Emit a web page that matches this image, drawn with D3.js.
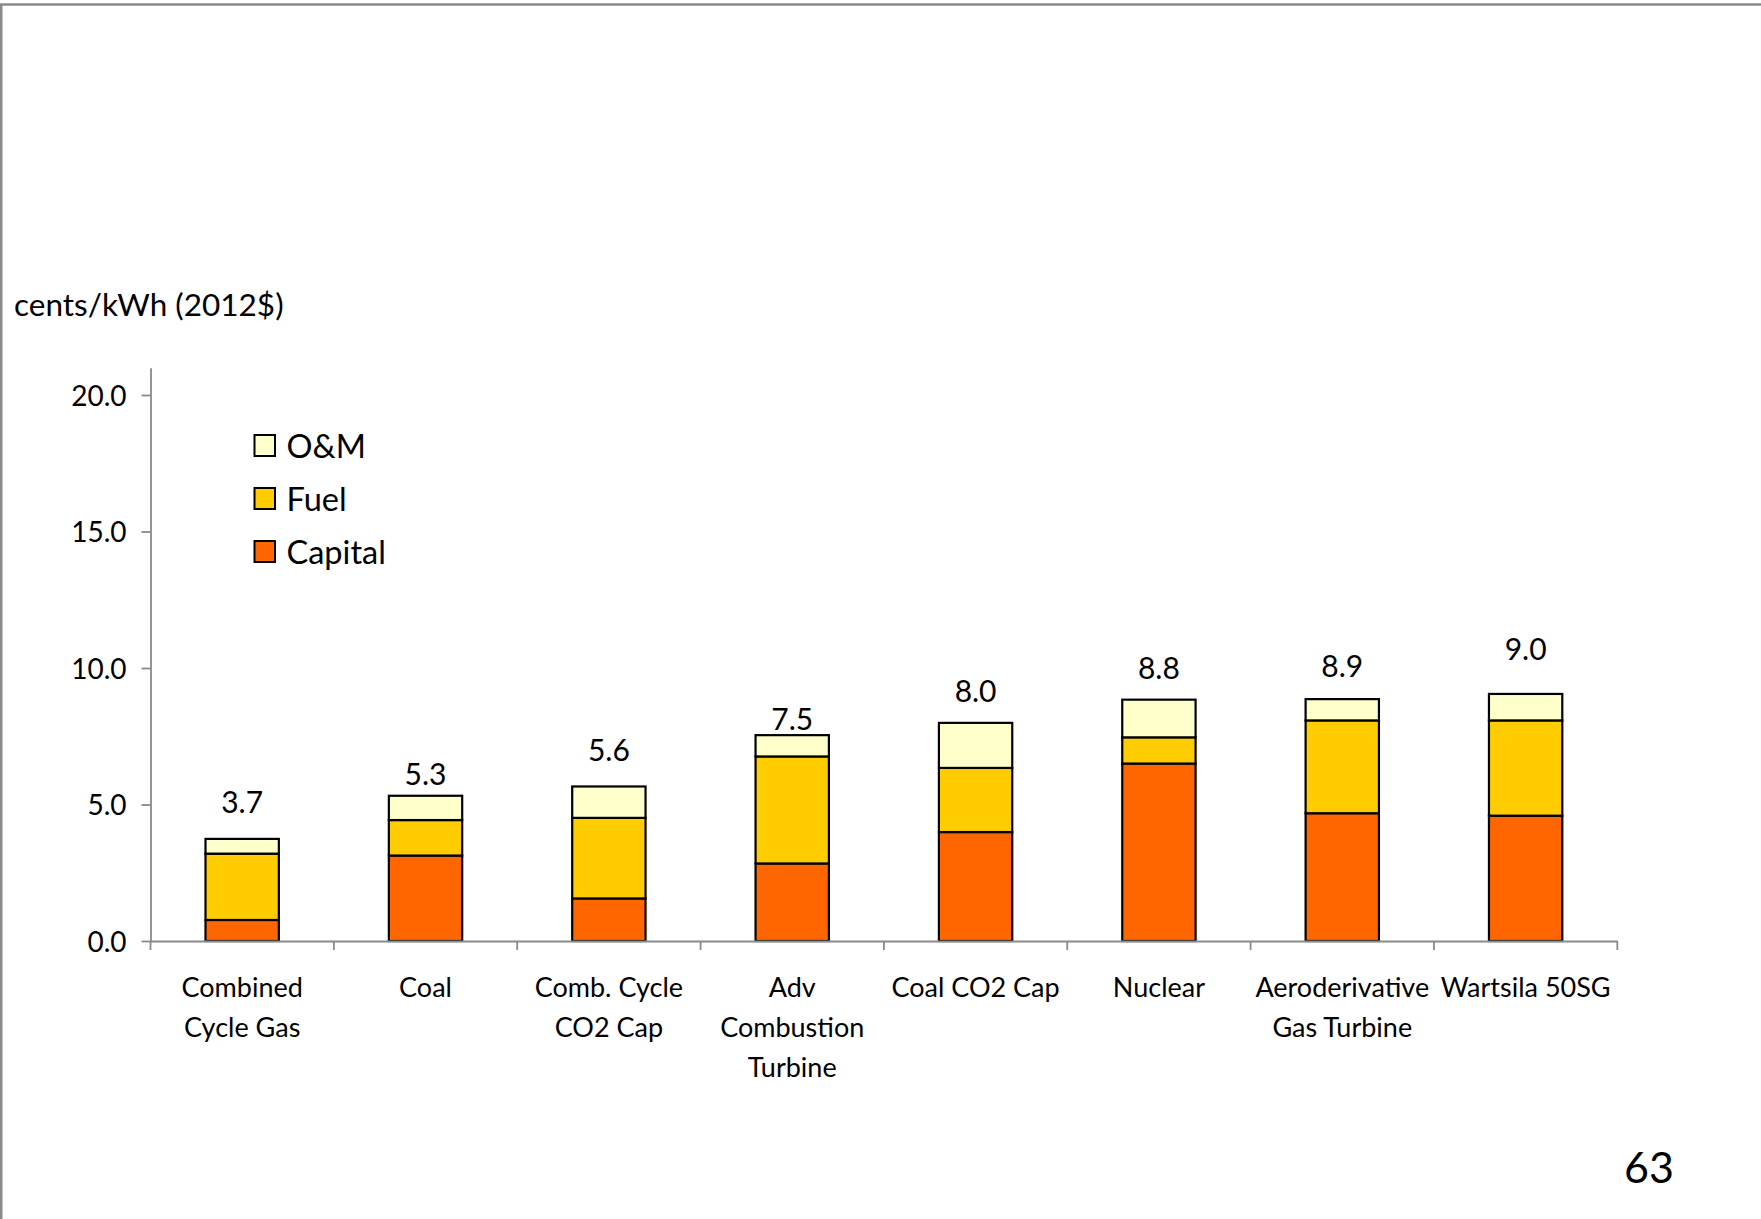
<!DOCTYPE html>
<html>
<head>
<meta charset="utf-8">
<script src="https://cdn.jsdelivr.net/npm/d3@7"></script>
<style>
  html, body { margin: 0; padding: 0; background: #ffffff; }
  svg { display: block; }
  text { font-family: Lato, "Open Sans", sans-serif; fill: #000; }
</style>
</head>
<body>
<svg id="chart" width="1761" height="1219"></svg>
<script>
// ---- Data ----
const categories = [
  ["Combined", "Cycle Gas"],
  ["Coal"],
  ["Comb. Cycle", "CO2 Cap"],
  ["Adv", "Combustion", "Turbine"],
  ["Coal CO2 Cap"],
  ["Nuclear"],
  ["Aeroderivative", "Gas Turbine"],
  ["Wartsila 50SG"]
];
const seriesNames = ["Capital", "Fuel", "O&M"];
const capital = [0.77, 3.13, 1.56, 2.84, 3.99, 6.50, 4.68, 4.59];
const fuel    = [2.43, 1.30, 2.95, 3.92, 2.35, 0.96, 3.40, 3.49];
const om      = [0.54, 0.89, 1.15, 0.78, 1.65, 1.38, 0.78, 0.97];
const totalLabels = ["3.7", "5.3", "5.6", "7.5", "8.0", "8.8", "8.9", "9.0"];
// value at which each total label sits (hidden label series)
const labelSeries = [5.09, 6.12, 7.00, 8.13, 9.16, 9.98, 10.07, 10.70];
const yTicks = [0, 5, 10, 15, 20];
const yMax = 21;
const yTitle = "cents/kWh (2012$)";
const pageNumber = "63";

// ---- Styles ----
const colors = { "Capital": "#FF6600", "Fuel": "#FFCC00", "O&M": "#FFFFCC" };
const axisColor = "#8a8a8a";

const svg = d3.select("#chart");

// slide frame (top and left edges)
svg.append("line").attr("x1", 0).attr("x2", 1761).attr("y1", 4.5).attr("y2", 4.5)
  .attr("stroke", "#8a8a8a").attr("stroke-width", 2.5);
svg.append("line").attr("x1", 1.25).attr("x2", 1.25).attr("y1", 4).attr("y2", 1219)
  .attr("stroke", "#8a8a8a").attr("stroke-width", 2.5);

const plot = { left: 150.5, right: 1617.3, top: 367.7, bottom: 941 };

const keys = categories.map((c, i) => i);
const x = d3.scaleBand().domain(keys).range([plot.left, plot.right])
  .paddingInner(0.6).paddingOuter(0.3);
const y = d3.scaleLinear().domain([0, yMax]).range([plot.bottom, plot.top]);

const rows = keys.map(i => ({ idx: i, "Capital": capital[i], "Fuel": fuel[i], "O&M": om[i] }));
const stacked = d3.stack().keys(seriesNames)(rows);

// bars
const g = svg.append("g");
stacked.forEach(layer => {
  g.append("g").selectAll("rect").data(layer).join("rect")
    .attr("x", d => x(d.data.idx))
    .attr("width", x.bandwidth())
    .attr("y", d => y(d[1]))
    .attr("height", d => y(d[0]) - y(d[1]))
    .attr("fill", colors[layer.key])
    .attr("stroke", "#000")
    .attr("stroke-width", 2.2);
});

// y axis
const yAxis = svg.append("g").attr("transform", `translate(${plot.left},0)`)
  .call(d3.axisLeft(y).tickValues(yTicks).tickFormat(d3.format(".1f"))
    .tickSize(9).tickSizeOuter(0).tickPadding(15));
yAxis.select(".domain").attr("stroke", axisColor).attr("stroke-width", 1.8);
yAxis.selectAll(".tick line").attr("stroke", axisColor).attr("stroke-width", 1.8);
yAxis.selectAll(".tick text").attr("font-size", 28).attr("font-family", "Lato").attr("fill", "#000")
  .attr("dy", "0.36em");

// x axis
const xAxis = svg.append("g").attr("transform", `translate(0,${plot.bottom})`)
  .call(d3.axisBottom(x).tickSize(0).tickSizeOuter(0).tickFormat(""));
xAxis.select(".domain").attr("stroke", axisColor).attr("stroke-width", 1.8);
const bounds = keys.map(i => x(i) + x.bandwidth() / 2 - x.step() / 2);
bounds.push(bounds[bounds.length - 1] + x.step());
xAxis.selectAll("line.bound").data(bounds).join("line").attr("class", "bound")
  .attr("x1", d => d).attr("x2", d => d).attr("y1", 0).attr("y2", 9)
  .attr("stroke", axisColor).attr("stroke-width", 1.8);

// category labels
const catG = svg.append("g");
keys.forEach(i => {
  const t = catG.append("text")
    .attr("x", x(i) + x.bandwidth() / 2)
    .attr("y", 997)
    .attr("text-anchor", "middle")
    .attr("font-size", 27);
  categories[i].forEach((line, j) => {
    t.append("tspan").attr("x", x(i) + x.bandwidth() / 2)
      .attr("y", 997 + j * 40).text(line);
  });
});

// total labels
svg.append("g").selectAll("text").data(keys).join("text")
  .attr("x", i => x(i) + x.bandwidth() / 2)
  .attr("y", i => y(labelSeries[i]))
  .attr("dy", "0.36em")
  .attr("text-anchor", "middle")
  .attr("font-size", 30)
  .text(i => totalLabels[i]);

// y title
svg.append("text").attr("x", 14).attr("y", 316).attr("font-size", 31.5).text(yTitle);

// legend (top to bottom: O&M, Fuel, Capital)
const legendOrder = seriesNames.slice().reverse();
const lg = svg.append("g").attr("transform", "translate(254.5,435)");
legendOrder.forEach((name, i) => {
  const row = lg.append("g").attr("transform", `translate(0,${i * 53})`);
  row.append("rect").attr("width", 20.5).attr("height", 21)
    .attr("fill", colors[name]).attr("stroke", "#000").attr("stroke-width", 2);
  row.append("text").attr("x", 32).attr("y", 23).attr("font-size", 32.5).text(name);
});

// page number
svg.append("text").attr("x", 1624).attr("y", 1183).attr("font-size", 43).text(pageNumber);
</script>
</body>
</html>
